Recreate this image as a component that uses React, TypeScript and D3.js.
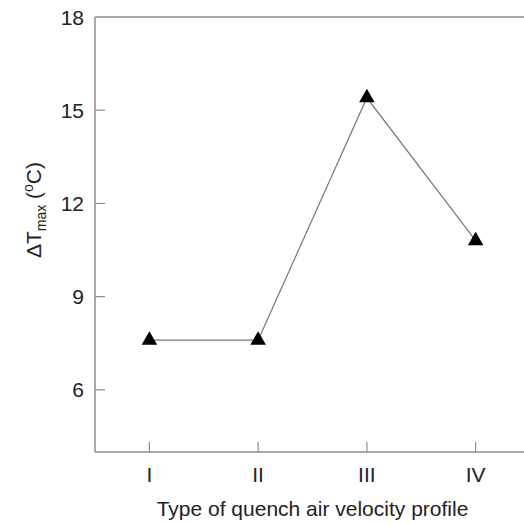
import { useEffect, useRef } from "react";
import * as d3 from "d3";

// Data
const profiles = ["I", "II", "III", "IV"];
const deltaTmax = [7.6, 7.6, 15.4, 10.8];
const yTicks = [6, 9, 12, 15, 18];

const App = () => {
  const svgRef = useRef<SVGSVGElement | null>(null);

  const width = 524;
  const height = 524;
  const margin = { top: 17, right: -6, bottom: 72, left: 95 };

  useEffect(() => {
    if (!svgRef.current) return;
    const svg = d3.select(svgRef.current);
    svg.selectAll("*").remove();

    const font = "'Liberation Sans', Arial, sans-serif";
    const axisColor = "#8c8c8c";
    const fs = 21;

    const x = d3
      .scaleLinear()
      .domain([0.5, profiles.length + 0.5])
      .range([margin.left, width - margin.right]);
    const y = d3
      .scaleLinear()
      .domain([4, 18])
      .range([height - margin.bottom, margin.top]);

    const data = profiles.map((p, i) => ({ p, i: i + 1, v: deltaTmax[i] }));

    // frame: left, top, bottom (right side runs off the picture)
    const frame = svg.append("g").attr("stroke", axisColor).attr("stroke-width", 1.5);
    frame
      .append("line")
      .attr("x1", x.range()[0])
      .attr("x2", x.range()[0])
      .attr("y1", y.range()[1])
      .attr("y2", y.range()[0]);
    frame
      .append("line")
      .attr("x1", x.range()[0])
      .attr("x2", x.range()[1])
      .attr("y1", y.range()[1])
      .attr("y2", y.range()[1]);
    frame
      .append("line")
      .attr("x1", x.range()[0])
      .attr("x2", x.range()[1])
      .attr("y1", y.range()[0])
      .attr("y2", y.range()[0]);

    // y ticks (inward)
    const yt = svg.append("g");
    yTicks.forEach((t) => {
      if (t < 18) {
        yt.append("line")
          .attr("x1", x.range()[0])
          .attr("x2", x.range()[0] + 10)
          .attr("y1", y(t))
          .attr("y2", y(t))
          .attr("stroke", axisColor)
          .attr("stroke-width", 1.2);
      }
      yt.append("text")
        .attr("x", x.range()[0] - 11)
        .attr("y", y(t))
        .attr("dy", "0.36em")
        .attr("text-anchor", "end")
        .attr("font-family", font)
        .attr("font-size", fs)
        .attr("fill", "#222")
        .text(t);
    });

    // x ticks (inward)
    const xt = svg.append("g");
    data.forEach((d) => {
      xt.append("line")
        .attr("x1", x(d.i))
        .attr("x2", x(d.i))
        .attr("y1", y.range()[0])
        .attr("y2", y.range()[0] - 10)
        .attr("stroke", axisColor)
        .attr("stroke-width", 1.2);
      xt.append("text")
        .attr("x", x(d.i))
        .attr("y", 482)
        .attr("text-anchor", "middle")
        .attr("font-family", font)
        .attr("font-size", fs)
        .attr("fill", "#222")
        .text(d.p);
    });

    // connecting line
    const line = d3
      .line<{ i: number; v: number }>()
      .x((d) => x(d.i))
      .y((d) => y(d.v));
    svg
      .append("path")
      .datum(data)
      .attr("d", line)
      .attr("fill", "none")
      .attr("stroke", "#777")
      .attr("stroke-width", 1.2);

    // triangle markers
    const tri = d3.symbol().type(d3.symbolTriangle).size(105);
    svg
      .append("g")
      .selectAll("path")
      .data(data)
      .join("path")
      .attr("d", tri)
      .attr("transform", (d) => `translate(${x(d.i)},${y(d.v)})`)
      .attr("fill", "#000");

    // x axis title
    svg
      .append("text")
      .attr("x", 312.5)
      .attr("y", 516)
      .attr("text-anchor", "middle")
      .attr("font-family", font)
      .attr("font-size", fs)
      .attr("fill", "#222")
      .text("Type of quench air velocity profile");

    // y axis title
    const yl = svg
      .append("text")
      .attr("transform", "translate(41,210) rotate(-90)")
      .attr("text-anchor", "middle")
      .attr("font-family", font)
      .attr("font-size", fs)
      .attr("fill", "#222");
    yl.append("tspan").text("\u0394T");
    yl.append("tspan").attr("font-size", 14).attr("dy", 5).text("max");
    yl.append("tspan").attr("dy", -5).text(" (");
    yl.append("tspan").attr("font-size", 14).attr("dy", -8).text("o");
    yl.append("tspan").attr("dy", 8).text("C)");
  }, []);

  return (
    <svg
      ref={svgRef}
      width={width}
      height={height}
      viewBox={`0 0 ${width} ${height}`}
      style={{ position: "absolute", left: 0, top: 0, background: "#fff" }}
    />
  );
};

export default App;
